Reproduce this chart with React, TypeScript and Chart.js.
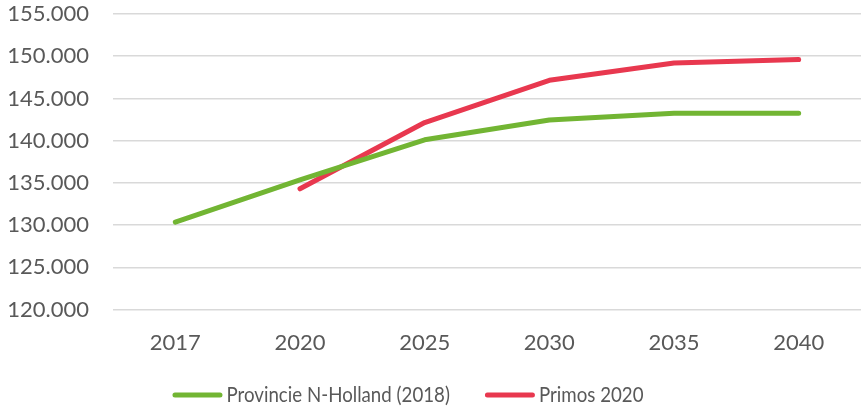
import React, { useEffect, useRef } from "react";
import { Chart, registerables } from "chart.js";

Chart.register(...registerables);

const years = ["2017", "2020", "2025", "2030", "2035", "2040"];
const provincieNH = [130350, 135350, 140100, 142450, 143250, 143250];
const primos2020 = [null, 134300, 142150, 147150, 149200, 149600];
const seriesNames = ["Provincie N-Holland (2018)", "Primos 2020"];
const seriesColors = ["#72b533", "#e8384f"];

const FONT_FAMILY = "Lato, 'Open Sans', sans-serif";
const TEXT_COLOR = "#595959";

function fmt(v: number): string {
  const s = Math.round(v).toString();
  return s.replace(/\B(?=(\d{3})+(?!\d))/g, ".");
}

const customLegend = {
  id: "customLegend",
  afterDraw(chart: any) {
    const ctx = chart.ctx;
    const ds = chart.data.datasets;
    ctx.save();
    ctx.font = `22px ${FONT_FAMILY}`;
    ctx.textBaseline = "middle";
    ctx.textAlign = "left";
    const squeeze = 0.85;
    const sample = 50;
    const gap = 4;
    const itemGap = 35;
    const widths = ds.map((d: any) => ctx.measureText(d.label).width * squeeze);
    const total =
      widths.reduce((a: number, w: number) => a + sample + gap + w, 0) + itemGap * (ds.length - 1);
    let x = 408 - total / 2;
    const y = 395;
    ds.forEach((d: any, i: number) => {
      ctx.strokeStyle = d.borderColor;
      ctx.lineWidth = 5;
      ctx.lineCap = "round";
      ctx.beginPath();
      ctx.moveTo(x + 2.5, y);
      ctx.lineTo(x + sample - 2.5, y);
      ctx.stroke();
      ctx.fillStyle = TEXT_COLOR;
      ctx.fillText(d.label, x + sample + gap, y, widths[i]);
      x += sample + gap + widths[i] + itemGap;
    });
    ctx.restore();
  },
};

export default function App() {
  const ref = useRef<HTMLCanvasElement | null>(null);
  useEffect(() => {
    if (!ref.current) return;
    const font = { family: FONT_FAMILY, size: 22 };
    const chart = new Chart(ref.current, {
      type: "line",
      data: {
        labels: years,
        datasets: [
          {
            label: seriesNames[0],
            data: provincieNH,
            borderColor: seriesColors[0],
            backgroundColor: seriesColors[0],
            borderWidth: 5,
            pointRadius: 0,
            tension: 0,
            borderCapStyle: "round",
            borderJoinStyle: "round",
          },
          {
            label: seriesNames[1],
            data: primos2020,
            borderColor: seriesColors[1],
            backgroundColor: seriesColors[1],
            borderWidth: 5,
            pointRadius: 0,
            tension: 0,
            borderCapStyle: "round",
            borderJoinStyle: "round",
          },
        ],
      },
      options: {
        animation: false,
        responsive: false,
        maintainAspectRatio: false,
        layout: { padding: { left: 8, right: 0, top: 0, bottom: 32 } },
        plugins: {
          tooltip: { enabled: false },
          legend: { display: false },
        },
        scales: {
          x: {
            offset: true,
            grid: { display: false, drawTicks: false },
            border: { display: false },
            ticks: { color: TEXT_COLOR, font, padding: 20 },
          },
          y: {
            min: 120000,
            max: 155000,
            grid: { color: "#d9d9d9", lineWidth: 1.5, drawTicks: false },
            border: { display: false },
            afterFit: (scale: any) => {
              scale.paddingTop = 14;
              scale.paddingBottom = 0;
              scale.width = 105;
            },
            ticks: {
              stepSize: 5000,
              color: TEXT_COLOR,
              font,
              padding: 24,
              callback: (v: any) => fmt(Number(v)),
            },
          },
        },
      },
      plugins: [customLegend],
    });
    return () => chart.destroy();
  }, []);
  return (
    <div style={{ position: "absolute", left: 0, top: 0, width: 861, height: 408 }}>
      <canvas ref={ref} width={861} height={408} style={{ display: "block" }} />
    </div>
  );
}
